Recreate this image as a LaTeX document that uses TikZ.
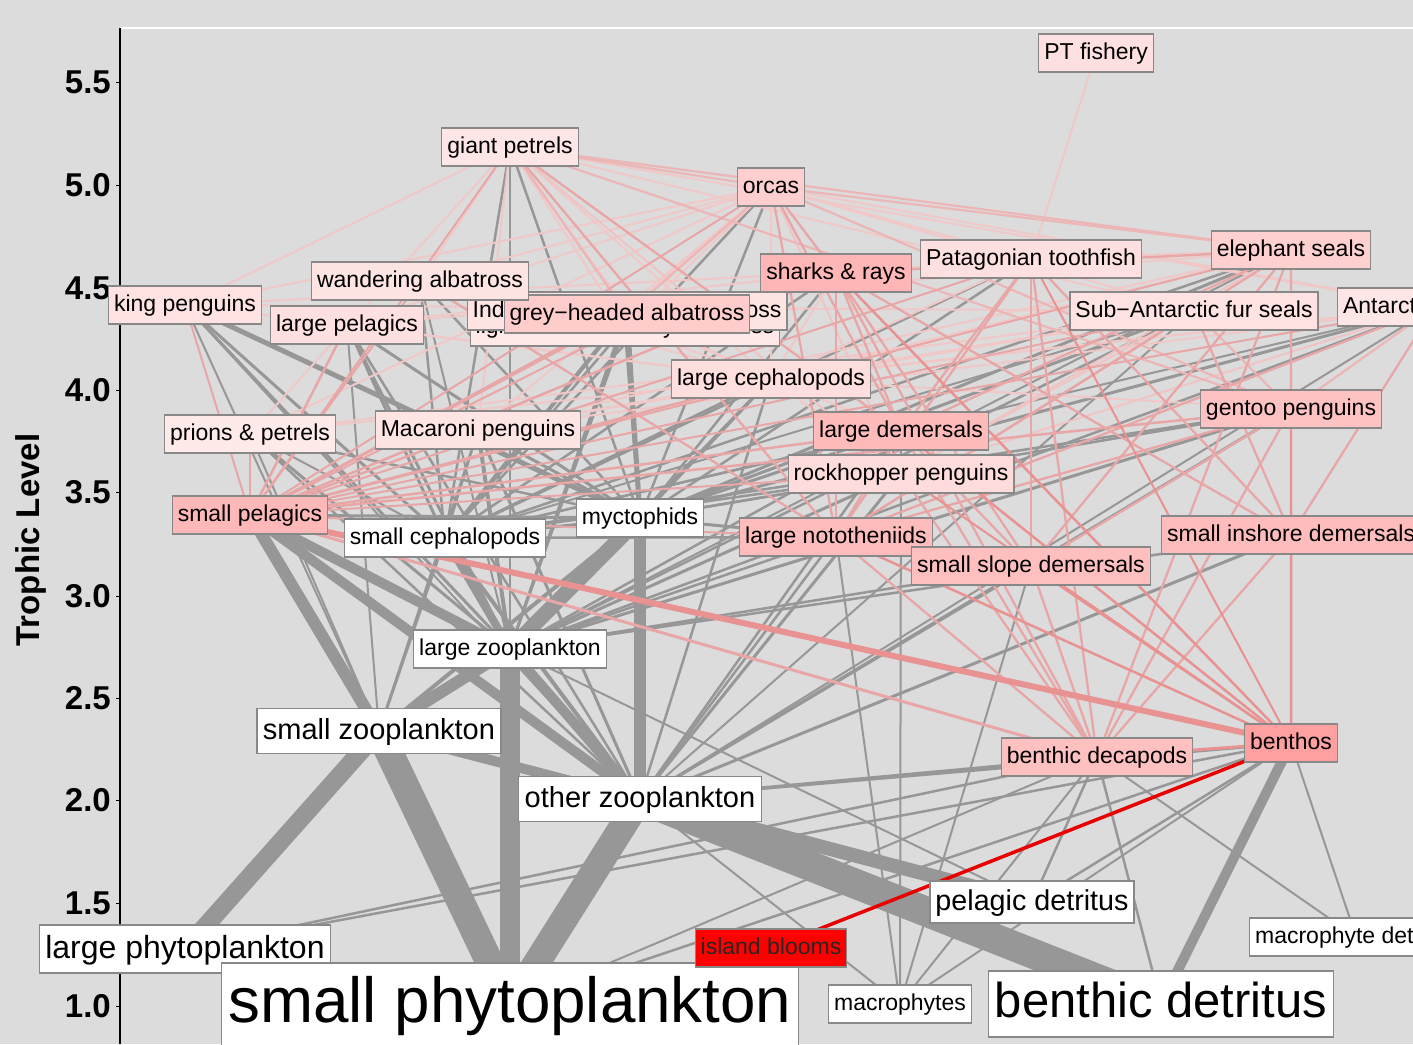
\documentclass[tikz,border=0pt]{standalone}
\usepackage{fontspec}
\setmainfont{Liberation Sans}
\pgfdeclarelayer{bg}
\pgfdeclarelayer{edges}
\pgfsetlayers{bg,edges,main}
\definecolor{bgc}{HTML}{DCDCDC}
\definecolor{ndb}{HTML}{888888}
\definecolor{eg}{HTML}{979797}
\definecolor{ep1}{HTML}{E89292}
\definecolor{ep2}{HTML}{E8A6A6}
\definecolor{ep3}{HTML}{ECB6B6}
\definecolor{ep4}{HTML}{F0C8C8}
\definecolor{ered}{HTML}{E80000}
\definecolor{cPT}{HTML}{FFE0E0}
\definecolor{cgp}{HTML}{FFE6E6}
\definecolor{corc}{HTML}{FFCFCF}
\definecolor{cshk}{HTML}{FFB6B6}
\definecolor{cptf}{HTML}{FFE0E0}
\definecolor{ces}{HTML}{FFD0D0}
\definecolor{csafs}{HTML}{FFE3E3}
\definecolor{cafs}{HTML}{FFE6E6}
\definecolor{cwa}{HTML}{FFE4E4}
\definecolor{ckp}{HTML}{FFE2E2}
\definecolor{clpel}{HTML}{FFE0E0}
\definecolor{ciya}{HTML}{FFE4E4}
\definecolor{clms}{HTML}{FFE8E8}
\definecolor{cgha}{HTML}{FFCCCC}
\definecolor{clcep}{HTML}{FFDEDE}
\definecolor{cpp}{HTML}{FFEAEA}
\definecolor{cmac}{HTML}{FFE4E4}
\definecolor{cldem}{HTML}{FFBABA}
\definecolor{crock}{HTML}{FFDCDC}
\definecolor{cgent}{HTML}{FFC2C2}
\definecolor{cspel}{HTML}{FFB8B8}
\definecolor{clnot}{HTML}{FFBCBC}
\definecolor{cssd}{HTML}{FFBFBF}
\definecolor{csid}{HTML}{FFBCBC}
\definecolor{cbdec}{HTML}{FFC0C0}
\definecolor{cben}{HTML}{FFA0A0}
\definecolor{cib}{HTML}{FF0000}
\tikzset{
  nd/.style={draw=ndb, line width=1.2pt, fill=white, inner xsep=5.5pt, inner ysep=0pt,
    minimum height=38pt, font=\fontsize{23}{27}\selectfont, text height=18.4pt, text depth=4.9pt},
  mid/.style={font=\fontsize{29}{33}\selectfont, minimum height=45pt, text height=23pt, text depth=6.2pt, inner xsep=6pt},
  edge/.style={line cap=butt},
  tick/.style={font=\bfseries\fontsize{33}{36}\selectfont, anchor=east, inner sep=0pt}
}
\begin{document}
\begin{tikzpicture}[x=1pt,y=-1pt]
\useasboundingbox (0,0) rectangle (1413,1044);
\begin{pgfonlayer}{bg}
\fill[bgc] (0,0) rectangle (1413,1044);
\draw[white, line width=2pt] (120,28) -- (1413,28);
\end{pgfonlayer}

% axis
\draw[black, line width=1.4pt] (120,28) -- (120,1044);
\foreach \tl/\yy in {5.5/82,5.0/185,4.5/288,4.0/390,3.5/492,3.0/596,2.5/698,2.0/800,1.5/903,1.0/1006}{
  \draw[black, line width=1pt] (116,\yy) -- (120,\yy);
  \node[tick] (t\yy) at (111,\yy) {\tl};
}
\node[font=\bfseries\fontsize{33}{36}\selectfont, rotate=90, inner sep=0pt] (ylab) at (31,540) {Trophic Level};

% nodes
\node[nd, fill=cPT] (PT) at (1096,53) {PT fishery};
\node[nd, fill=cgp] (gp) at (510,147) {giant petrels};
\node[nd, fill=corc] (orc) at (771,187) {orcas};
\node[nd, fill=cptf] (ptf) at (1031,259) {Patagonian toothfish};
\node[nd, fill=cshk] (shk) at (836,273) {sharks \& rays};
\node[nd, fill=ces] (es) at (1291,250) {elephant seals};
\node[nd, fill=clms] (lms) at (625,327) {light−mantled sooty albatross};
\node[nd, fill=ciya] (iya) at (627,311) {Indian yellow−nosed albatross};
\node[nd, fill=cgha] (gha) at (627,314) {grey−headed albatross};
\node[nd, fill=cwa] (wa) at (420,281) {wandering albatross};
\node[nd, fill=ckp] (kp) at (185,305) {king penguins};
\node[nd, fill=clpel] (lpel) at (347,325) {large pelagics};
\node[nd, fill=csafs] (safs) at (1194,311) {Sub−Antarctic fur seals};
\node[nd, fill=cafs, anchor=west] (afs) at (1337,307) {Antarctic fur seals};
\node[nd, fill=clcep] (lcep) at (771,379) {large cephalopods};
\node[nd, fill=cpp] (pp) at (250,434) {prions \& petrels};
\node[nd, fill=cmac] (mac) at (478,430) {Macaroni penguins};
\node[nd, fill=cldem] (ldem) at (901,431) {large demersals};
\node[nd, fill=crock] (rock) at (901,474) {rockhopper penguins};
\node[nd, fill=cgent] (gent) at (1291,409) {gentoo penguins};
\node[nd, fill=cspel] (spel) at (250,515) {small pelagics};
\node[nd] (scep) at (445,538) {small cephalopods};
\node[nd] (myc) at (640,518) {myctophids};
\node[nd, fill=clnot] (lnot) at (836,537) {large nototheniids};
\node[nd, fill=csid, anchor=west] (sid) at (1161,535) {small inshore demersals};
\node[nd, fill=cssd] (ssd) at (1031,566) {small slope demersals};
\node[nd] (lzoo) at (510,649) {large zooplankton};
\node[nd, mid] (szoo) at (379,731) {small zooplankton};
\node[nd, fill=cbdec] (bdec) at (1097,757) {benthic decapods};
\node[nd, fill=cben] (ben) at (1291,743) {benthos};
\node[nd, mid] (ozoo) at (640,799) {other zooplankton};
\node[nd, font=\fontsize{28.7}{32}\selectfont, minimum height=42pt, text height=22.5pt, text depth=6pt] (pdet) at (1032,902) {pelagic detritus};
\node[nd, anchor=west] (mdet) at (1249,937) {macrophyte detritus};
\node[nd, font=\fontsize{32}{35}\selectfont, minimum height=48pt, text height=25pt, text depth=6.8pt, inner xsep=5.5pt] (lphy) at (185,949) {large phytoplankton};
\node[nd, font=\fontsize{63.7}{70}\selectfont, minimum height=84pt, text height=49pt, text depth=13.5pt, inner xsep=7pt] (sphy) at (510,1005) {small phytoplankton};
\node[nd, fill=cib, text=black!85] (ib) at (771,948) {island blooms};
\node[nd] (mph) at (900,1004) {macrophytes};
\node[nd, font=\fontsize{49}{54}\selectfont, minimum height=66pt, text height=38pt, text depth=10.4pt, inner xsep=6pt] (bdet) at (1161,1004) {benthic detritus};

\begin{pgfonlayer}{edges}
% ---- grey flows (white prey) ----
\foreach \nn/\ww in {szoo/28,lzoo/20,ozoo/27,bdec/2,ben/2.5}
  \draw[edge, eg, line width=\ww pt] (sphy.center) -- (\nn.center);
\foreach \nn/\ww in {szoo/18,bdec/2.5,ben/2.5}
  \draw[edge, eg, line width=\ww pt] (lphy.center) -- (\nn.center);
\foreach \nn/\ww in {ozoo/14,bdec/2.5,ben/2.5,lzoo/2}
  \draw[edge, eg, line width=\ww pt] (pdet.center) -- (\nn.center);
\foreach \nn/\ww in {ozoo/30,ben/10,bdec/2.5}
  \draw[edge, eg, line width=\ww pt] (bdet.center) -- (\nn.center);
\foreach \nn/\ww in {ben/2,bdec/2,ldem/2,lnot/2,ssd/2,ozoo/2}
  \draw[edge, eg, line width=\ww pt] (mph.center) -- (\nn.center);
\foreach \nn/\ww in {ben/2,bdec/2}
  \draw[edge, eg, line width=\ww pt] (mdet.center) -- (\nn.center);
\foreach \nn/\ww in {lzoo/12,ozoo/10,scep/3,mac/2,pp/2,spel/12,kp/2,myc/4,lpel/2}
  \draw[edge, eg, line width=\ww pt] (szoo.center) -- (\nn.center);
\foreach \nn/\ww in {myc/15,ozoo/10,scep/8,mac/4,pp/3,kp/3,spel/10,lpel/3,lcep/3,gha/3,iya/2.5,lms/2.5,gp/2.5,rock/3,afs/2.5,safs/2.5,gent/3,ldem/2.5,lnot/2.5,ssd/2.5,sid/2.5,es/2,wa/2}
  \draw[edge, eg, line width=\ww pt] (lzoo.center) -- (\nn.center);
\foreach \nn/\ww in {myc/12,scep/4,spel/10,mac/3,pp/2.5,rock/3,gent/3,lnot/2.5,ldem/2.5,ssd/3,sid/3,bdec/3,ben/3,safs/2,afs/2,lcep/2.5,kp/2,lpel/2.5}
  \draw[edge, eg, line width=\ww pt] (ozoo.center) -- (\nn.center);
\foreach \nn/\ww in {kp/5,gp/2.5,orc/2.5,wa/2.5,gha/5,iya/3,lms/3,lpel/3,lcep/3,mac/3,pp/2.5,rock/2.5,gent/2.5,es/3,safs/3,afs/3,ptf/2.5,shk/2.5,ldem/3,lnot/3,spel/3,scep/3}
  \draw[edge, eg, line width=\ww pt] (myc.center) -- (\nn.center);
\foreach \nn/\ww in {kp/3,gp/2.5,orc/2.5,wa/2.5,gha/3,iya/2.5,lms/2.5,lpel/3,lcep/3,mac/2.5,pp/2,rock/2.5,gent/2.5,es/2.5,safs/2,afs/2,ptf/2.5,shk/2.5,ldem/2.5,lnot/2.5}
  \draw[edge, eg, line width=\ww pt] (scep.center) -- (\nn.center);
% ---- light pink flows ----
\foreach \pr/\nn in {mac/orc,mac/gp,mac/es,mac/safs,mac/afs,kp/gp,kp/orc,kp/es,kp/safs,pp/gp,pp/safs,pp/afs,pp/orc,
  wa/gp,wa/orc,iya/gp,iya/orc,lms/gp,lms/orc,lpel/orc,lpel/shk,lpel/es,safs/orc,safs/gp,afs/orc,afs/gp,ptf/PT,ptf/orc,ptf/shk,ptf/es,
  lcep/orc,lcep/shk,lcep/ptf,lcep/es,lcep/safs,lcep/afs,lcep/gha,lcep/iya,lcep/lms,lcep/wa,lcep/gp,lcep/kp,lcep/lpel,lcep/mac,lcep/rock,lcep/gent,lcep/ldem}
  \draw[edge, ep4, line width=2pt] (\pr.center) -- (\nn.center);
\foreach \pr/\nn in {rock/orc,rock/gp,rock/es,rock/safs,rock/afs}
  \draw[edge, ep4!80!ep3, line width=2pt] (\pr.center) -- (\nn.center);
\foreach \pr/\nn in {gent/orc,gent/gp,gent/es,gent/safs,gent/afs,gha/gp,gha/orc,es/orc,es/gp,orc/gp}
  \draw[edge, ep3, line width=2.2pt] (\pr.center) -- (\nn.center);
% ---- pink flows ----
\foreach \nn/\ww in {kp/2,lpel/2.5,wa/2,gp/2,gha/2.5,iya/2,lms/2,lcep/2.5,mac/2.5,pp/2,rock/2,gent/2.5,ldem/2.5,lnot/2,orc/2,shk/2.5,ptf/2,es/2,safs/2,afs/2}
  \draw[edge, ep2, line width=\ww pt] (spel.center) -- (\nn.center);
\foreach \pr/\nn in {lnot/shk,lnot/ptf,lnot/es,lnot/ldem,lnot/gent,lnot/orc,lnot/gp,lnot/safs,lnot/afs,lnot/wa,
  ldem/shk,ldem/ptf,ldem/es,ldem/orc,ldem/gp,ssd/ptf,ssd/shk,ssd/es,ssd/ldem,ssd/gent,
  sid/gent,sid/es,sid/shk,sid/safs,sid/afs,sid/ptf,shk/orc,shk/es,
  bdec/ldem,bdec/lnot,bdec/ssd,bdec/sid,bdec/gent,bdec/shk,bdec/ptf,bdec/es,bdec/rock}
  \draw[edge, ep2, line width=2.3pt] (\pr.center) -- (\nn.center);
\draw[edge, ep2, line width=3pt] (bdec.center) -- (spel.center);
\foreach \nn/\ww in {spel/6,ldem/2.5,lnot/2.5,ssd/2.5,sid/2.5,bdec/3,gent/2.5,shk/2.5,ptf/2,rock/2}
  \draw[edge, ep1, line width=\ww pt] (ben.center) -- (\nn.center);
\draw[edge, ered, line width=3.5pt] (ib.center) -- (ben.center);
\end{pgfonlayer}
\end{tikzpicture}
\end{document}
